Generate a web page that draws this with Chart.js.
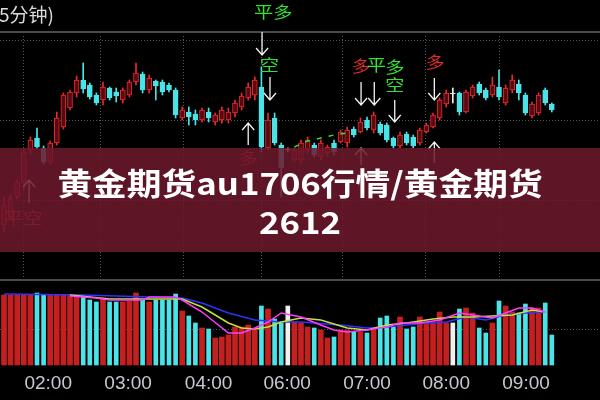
<!DOCTYPE html>
<html>
<head>
<meta charset="utf-8">
<script src="https://cdn.jsdelivr.net/npm/chart.js@4.4.1/dist/chart.umd.min.js"></script>
<style>
    html, body { margin: 0; padding: 0; background: #000; }
    #wrap { width: 600px; height: 400px; }
</style>
</head>
<body>
<div id="wrap"><canvas id="kline" width="600" height="400"></canvas></div>
<script>
// au1706, 5 minute bars
var timeLabels = ['02:00', '03:00', '04:00', '06:00', '07:00', '08:00', '09:00'];
var timeLabelAt = [6.7, 18.8, 31, 42.9, 55, 67, 79.1];
var hourLineAt = [2.9, 14.5, 27.1, 39, 51.2, 63.8, 75];
var priceGrid = [280, 288, 296];
var volumeGrid = [360];

var opens = [
    277.5, 278.3, 280.3, 281.8, 285.0, 286.2, 285.2, 283.8, 285.7, 287.3,
    289.2, 290.7, 292.0, 291.5, 290.5, 290.0, 291.2, 290.8, 290.0, 290.5,
    291.8, 292.6, 291.0, 291.9, 291.8, 291.5, 291.0, 288.2, 288.8, 288.6,
    288.0, 288.8, 287.8, 288.0, 288.0, 288.7, 289.3, 290.2, 290.5, 291.3,
    285.2, 288.2, 285.5, 285.0, 284.0, 284.0, 285.0, 285.5, 284.3, 284.7,
    285.7, 285.8, 285.7, 287.1, 286.8, 288.0, 287.0, 287.6, 287.5, 286.2,
    285.4, 286.6, 286.3, 285.7, 286.8, 287.3, 288.2, 289.6, 290.6, 290.7,
    288.8, 290.4, 291.6, 291.0, 290.5, 291.3, 289.7, 291.0, 291.6, 290.5,
    288.4, 288.7, 291.0, 289.6
];
var highs = [
    280.3, 280.5, 282.0, 285.0, 286.3, 287.2, 285.4, 285.9, 288.8, 290.7,
    291.0, 292.4, 293.7, 291.7, 290.7, 291.8, 291.3, 291.2, 291.2, 292.0,
    293.7, 292.8, 292.5, 292.0, 292.0, 291.7, 291.2, 289.3, 289.3, 289.0,
    289.2, 289.2, 288.7, 289.3, 289.2, 290.0, 290.7, 291.7, 292.3, 293.3,
    288.7, 288.7, 285.7, 285.2, 285.2, 286.0, 286.3, 285.7, 286.0, 285.5,
    286.0, 287.0, 287.3, 287.3, 288.2, 288.3, 288.8, 287.8, 287.7, 286.3,
    286.8, 286.8, 286.5, 287.2, 287.7, 288.7, 290.2, 291.0, 291.2, 290.8,
    291.0, 291.5, 291.8, 291.2, 292.3, 293.0, 291.5, 292.5, 292.0, 290.7,
    289.8, 290.7, 291.2, 289.7
];
var lows = [
    276.8, 278.0, 280.1, 281.0, 284.5, 285.1, 283.6, 283.6, 285.5, 287.1,
    289.0, 290.3, 290.7, 290.1, 289.5, 289.5, 290.0, 289.8, 289.7, 290.3,
    291.5, 290.7, 290.7, 290.0, 290.5, 290.8, 288.2, 288.0, 287.5, 287.5,
    287.8, 287.8, 287.5, 287.7, 287.7, 288.3, 289.0, 290.0, 290.0, 284.8,
    285.0, 285.5, 280.3, 284.8, 283.8, 283.7, 284.7, 284.3, 284.0, 284.4,
    284.5, 285.7, 285.3, 286.3, 286.7, 287.0, 286.7, 286.5, 285.8, 285.2,
    285.2, 285.5, 285.2, 285.5, 286.7, 287.2, 288.0, 289.3, 289.7, 288.5,
    288.7, 290.2, 290.5, 290.0, 290.3, 290.0, 289.5, 290.7, 290.0, 288.5,
    288.2, 288.5, 289.5, 288.8
];
var closes = [
    279.5, 280.2, 281.8, 284.8, 286.0, 285.3, 283.8, 285.7, 288.2, 290.5,
    290.8, 292.0, 291.1, 290.3, 289.7, 291.3, 290.2, 290.4, 291.0, 291.8,
    292.7, 291.0, 292.2, 291.4, 290.8, 291.0, 288.5, 289.0, 288.3, 288.0,
    289.0, 288.2, 288.5, 289.0, 288.8, 289.7, 290.4, 291.3, 292.0, 285.3,
    288.0, 285.7, 283.2, 285.0, 285.0, 285.7, 286.0, 284.5, 285.7, 285.3,
    284.8, 286.8, 287.0, 286.5, 287.8, 287.2, 288.5, 286.7, 286.0, 285.4,
    286.5, 285.7, 285.4, 287.0, 287.5, 288.5, 290.0, 290.7, 290.6, 288.8,
    290.8, 291.3, 290.7, 290.2, 291.5, 290.3, 291.2, 292.0, 290.7, 288.7,
    289.6, 290.5, 289.7, 289.0
];
var volumes = [
    700, 700, 700, 700, 700, 720, 700, 700, 700, 700,
    700, 700, 680, 650, 630, 670, 630, 630, 630, 640,
    720, 650, 630, 650, 650, 650, 710, 540, 490, 420,
    370, 360, 270, 280, 300, 380, 380, 400, 350, 590,
    560, 460, 420, 590, 430, 420, 380, 370, 350, 270,
    280, 350, 350, 330, 330, 320, 350, 470, 490, 380,
    480, 360, 380, 480, 430, 430, 530, 420, 420, 560,
    570, 520, 370, 320, 420, 640, 590, 530, 520, 610,
    570, 570, 620, 300
];

// volume average lines (blue, magenta, yellow-green)
var volMaLongAt = [0, 12, 27, 30, 34, 38, 42, 45, 51, 55, 58, 61, 64, 67, 70, 73, 76, 79, 82];
var volMaLong = [710, 700, 670, 620, 520, 450, 430, 430, 400, 370, 380, 400, 420, 430, 480, 450, 500, 520, 530];
var volMaShortAt = [10, 14, 16, 21, 22, 26, 27, 30, 34, 36, 38, 40, 42, 45, 48, 50, 52, 55, 58, 60, 63, 66, 69, 71, 74, 76, 78, 80, 82];
var volMaShort = [690, 670, 650, 650, 680, 680, 650, 530, 320, 320, 370, 430, 520, 480, 400, 350, 330, 350, 380, 420, 420, 450, 520, 500, 470, 520, 570, 570, 530];
var volMaMidAt = [10, 16, 21, 27, 30, 34, 36, 38, 40, 42, 45, 48, 52, 55, 58, 61, 65, 68, 71, 74, 77, 80, 82];
var volMaMid = [700, 660, 660, 660, 580, 420, 370, 360, 380, 430, 470, 450, 370, 350, 400, 420, 460, 480, 480, 490, 500, 550, 530];

// short green average on the price panel
var priceMaAt = [44, 46, 48, 50, 52];
var priceMa = [285.3, 285.9, 286.2, 286.5, 286.7];

// trade signals: candle index, price, text
var signalAt = [40.8, 40.2, 54.1, 56.4, 59.2, 59.2, 65.3, 37, 2.9];
var signalPrice = [298.8, 293.5, 293.4, 293.5, 293.3, 291.5, 293.8, 284.2, 278.2];
var signalText = ['平多', '空', '多', '平', '多', '空', '多', '多', '平空'];
var signalBull = [false, false, true, false, false, false, true, true, true];

var arrowAt = [39.1, 40.3, 54.1, 56.1, 59.2, 65.2, 37, 54.1, 65.2, 3.8];
var arrowFrom = [296.8, 292.3, 291.8, 291.8, 290.0, 292.2, 285.5, 283.5, 283.7, 279.7];
var arrowTo = [294.5, 290.0, 289.5, 289.5, 287.8, 290.0, 287.7, 285.2, 285.8, 282.0];

var periodText = '(5分钟)';
var bannerLines = ['黄金期货au1706行情/黄金期货', '2612'];

(function() {
    'use strict';

    var COLORS = {
        up: '#ec2830',
        upFill: '#560b10',
        down: '#4ae4e8',
        flat: '#f0f0f0',
        volUp: '#c42020',
        grid: '#555555',
        panel: '#4a4a4a',
        bull: '#e02a2a',
        bear: '#33e033'
    };
    var CJK = '"Noto Sans CJK SC", "Noto Sans", sans-serif';

    var KLine = {
        init: function() {
            var canvas = document.getElementById('kline');
            new Chart(canvas, {
                type: 'bar',
                data: { datasets: this.buildDatasets() },
                options: {
                    responsive: false,
                    animation: false,
                    events: [],
                    layout: { padding: 0 },
                    plugins: {
                        legend: { display: false },
                        tooltip: { enabled: false }
                    },
                    scales: {
                        x: { type: 'linear', min: -0.606, max: 90.3, offset: false, display: false },
                        price: { type: 'linear', min: 260, max: 300, display: false },
                        vol: { type: 'linear', min: -350, max: 3650, display: false }
                    }
                },
                plugins: [this.panelPlugin()]
            });
        },

        tone: function(i) {
            if (closes[i] > opens[i]) return 'up';
            if (closes[i] < opens[i]) return 'down';
            return 'flat';
        },

        points: function(at, values) {
            return at.map(function(x, i) {
                return { x: x, y: values[i] };
            });
        },

        buildDatasets: function() {
            var self = this;
            var bodies = [], wicks = [], volsUp = [], volsDown = [];
            var bodyFill = [], bodyLine = [], wickColor = [], downColor = [];

            opens.forEach(function(o, i) {
                var t = self.tone(i);
                bodies.push({ x: i, y: [Math.min(o, closes[i]), Math.max(o, closes[i])] });
                wicks.push({ x: i, y: [lows[i], highs[i]] });
                bodyLine.push(COLORS[t]);
                bodyFill.push(t === 'up' ? COLORS.upFill : COLORS[t]);
                wickColor.push(COLORS[t]);
                // red volume bars are drawn wider than the others
                if (t === 'up') {
                    volsUp.push({ x: i, y: volumes[i] });
                } else {
                    volsDown.push({ x: i, y: volumes[i] });
                    downColor.push(COLORS[t]);
                }
            });

            var lineBase = {
                type: 'line',
                yAxisID: 'vol',
                pointRadius: 0,
                borderWidth: 1.5,
                tension: 0,
                fill: false
            };

            return [
                Object.assign({}, lineBase, {
                    data: this.points(priceMaAt, priceMa),
                    yAxisID: 'price',
                    borderColor: '#3ad83a',
                    borderDash: [5, 7],
                    order: 0
                }),
                Object.assign({}, lineBase, {
                    data: this.points(volMaShortAt, volMaShort),
                    borderColor: '#ff3cff',
                    order: 1
                }),
                Object.assign({}, lineBase, {
                    data: this.points(volMaMidAt, volMaMid),
                    borderColor: '#c4e23c',
                    order: 2
                }),
                Object.assign({}, lineBase, {
                    data: this.points(volMaLongAt, volMaLong),
                    borderColor: '#2a34ff',
                    order: 3
                }),
                {
                    data: bodies,
                    yAxisID: 'price',
                    grouped: false,
                    barThickness: 5,
                    minBarLength: 1,
                    borderWidth: 1,
                    borderSkipped: false,
                    backgroundColor: bodyFill,
                    borderColor: bodyLine,
                    order: 4
                },
                {
                    data: wicks,
                    yAxisID: 'price',
                    grouped: false,
                    barThickness: 1,
                    borderWidth: 0,
                    backgroundColor: wickColor,
                    order: 5
                },
                {
                    data: volsUp,
                    yAxisID: 'vol',
                    grouped: false,
                    barThickness: 5,
                    borderWidth: 0,
                    backgroundColor: COLORS.volUp,
                    order: 6
                },
                {
                    data: volsDown,
                    yAxisID: 'vol',
                    grouped: false,
                    barThickness: 4,
                    borderWidth: 0,
                    backgroundColor: downColor,
                    order: 7
                }
            ];
        },

        dotted: function(ctx, x1, y1, x2, y2) {
            ctx.beginPath();
            ctx.moveTo(x1, y1);
            ctx.lineTo(x2, y2);
            ctx.stroke();
        },

        arrow: function(ctx, x, yFrom, yTo) {
            var dir = yTo > yFrom ? 1 : -1;
            ctx.beginPath();
            ctx.moveTo(x, yFrom);
            ctx.lineTo(x, yTo);
            ctx.moveTo(x - 6, yTo - dir * 7);
            ctx.lineTo(x, yTo);
            ctx.lineTo(x + 6, yTo - dir * 7);
            ctx.stroke();
        },

        panelPlugin: function() {
            var self = this;
            return {
                id: 'panels',
                beforeDraw: function(chart) {
                    var ctx = chart.ctx;
                    var xs = chart.scales.x, ps = chart.scales.price, vs = chart.scales.vol;
                    ctx.save();
                    ctx.fillStyle = '#000';
                    ctx.fillRect(0, 0, chart.width, chart.height);

                    // panel separators
                    ctx.fillStyle = COLORS.panel;
                    ctx.fillRect(0, 31, chart.width, 2);
                    ctx.fillRect(0, 279, chart.width, 2);

                    // dotted grid
                    ctx.strokeStyle = COLORS.grid;
                    ctx.lineWidth = 1;
                    ctx.setLineDash([1, 2]);
                    priceGrid.forEach(function(p) {
                        var y = Math.round(ps.getPixelForValue(p)) + 0.5;
                        self.dotted(ctx, 0, y, chart.width, y);
                    });
                    volumeGrid.forEach(function(v) {
                        var y = Math.round(vs.getPixelForValue(v)) + 0.5;
                        self.dotted(ctx, 0, y, chart.width, y);
                    });
                    hourLineAt.forEach(function(h) {
                        var x = Math.round(xs.getPixelForValue(h)) + 0.5;
                        self.dotted(ctx, x, 36, x, 278);
                    });
                    ctx.restore();
                },
                afterDraw: function(chart) {
                    var ctx = chart.ctx;
                    var xs = chart.scales.x, ps = chart.scales.price;
                    ctx.save();

                    // signal arrows and labels
                    ctx.strokeStyle = '#f4f4f4';
                    ctx.lineWidth = 1.3;
                    arrowAt.forEach(function(a, i) {
                        self.arrow(ctx, xs.getPixelForValue(a),
                            ps.getPixelForValue(arrowFrom[i]), ps.getPixelForValue(arrowTo[i]));
                    });
                    ctx.textAlign = 'center';
                    ctx.textBaseline = 'middle';
                    ctx.font = '16px ' + CJK;
                    signalText.forEach(function(t, i) {
                        ctx.save();
                        ctx.translate(xs.getPixelForValue(signalAt[i]), ps.getPixelForValue(signalPrice[i]));
                        ctx.scale(1.2, 1);
                        ctx.fillStyle = signalBull[i] ? COLORS.bull : COLORS.bear;
                        ctx.fillText(t, 0, 0);
                        ctx.restore();
                    });

                    // title banner
                    ctx.fillStyle = 'rgba(110, 24, 44, 0.86)';
                    ctx.fillRect(0, 148, chart.width, 104);
                    ctx.fillStyle = '#ffffff';
                    ctx.font = 'bold 31px ' + CJK;
                    bannerLines.forEach(function(line, i) {
                        ctx.save();
                        ctx.translate(300, i === 0 ? 183 : 222);
                        ctx.scale(1.12, 1);
                        ctx.fillText(line, 0, 0);
                        ctx.restore();
                    });

                    // period caption, clipped at the left edge
                    ctx.textAlign = 'right';
                    ctx.fillStyle = '#dcdcdc';
                    ctx.font = '19px ' + CJK;
                    ctx.fillText(periodText, 54, 15);

                    // time axis
                    ctx.textAlign = 'center';
                    ctx.fillStyle = '#c6cad2';
                    ctx.font = '19px "Liberation Sans", Arial, sans-serif';
                    timeLabels.forEach(function(t, i) {
                        ctx.fillText(t, xs.getPixelForValue(timeLabelAt[i]), 384);
                    });
                    ctx.restore();
                }
            };
        }
    };

    KLine.init();
})();
</script>
</body>
</html>
